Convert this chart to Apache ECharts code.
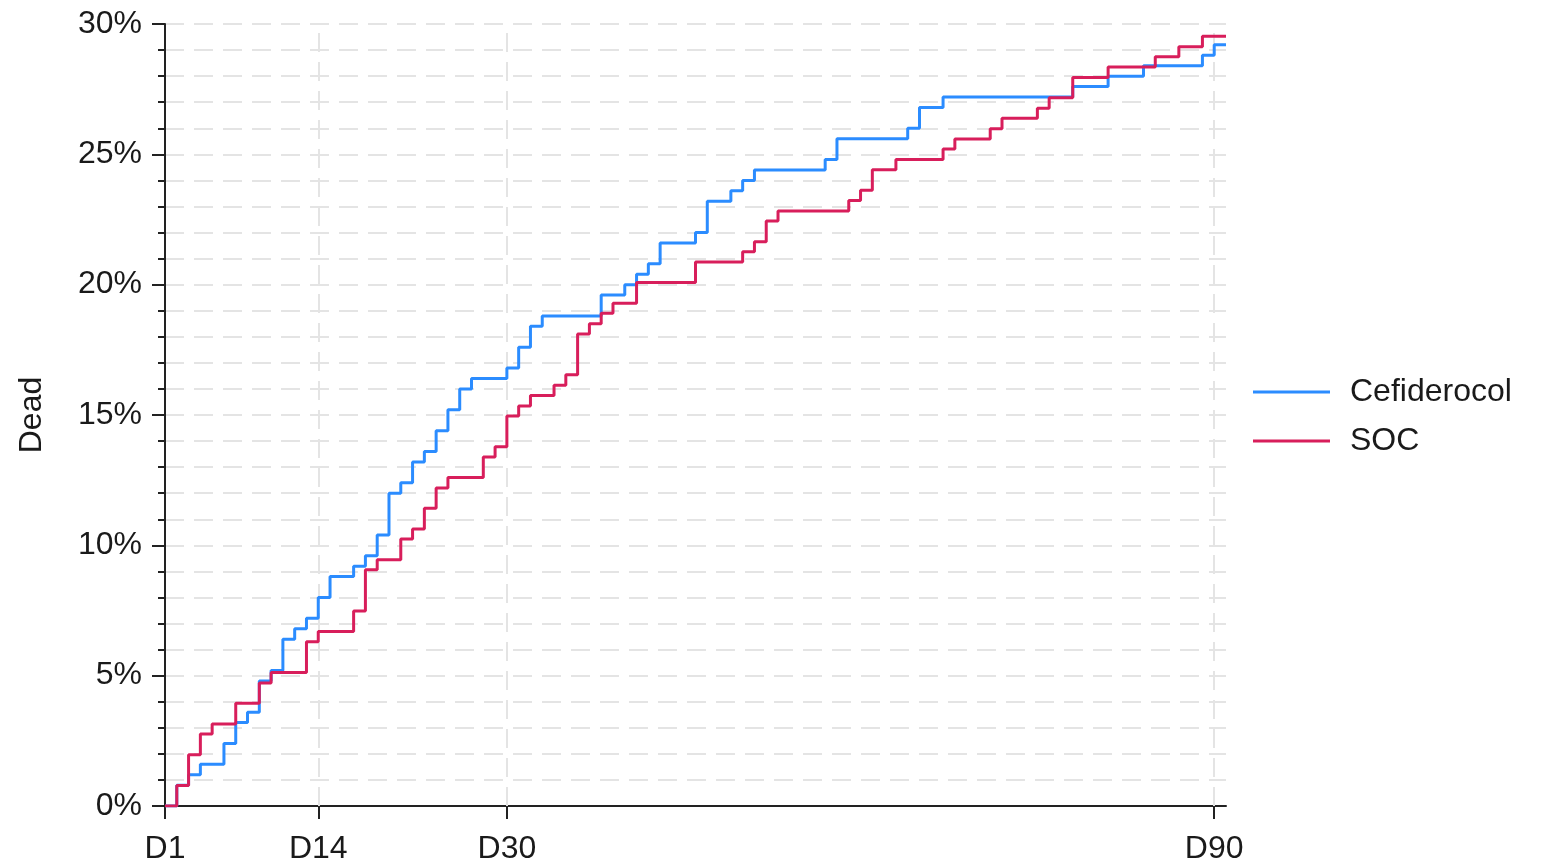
<!DOCTYPE html>
<html>
<head>
<meta charset="utf-8">
<script src="https://cdn.jsdelivr.net/npm/echarts@6/dist/echarts.min.js"></script>
<style>
  html, body { margin: 0; padding: 0; background: #fff; }
  #chart { width: 1547px; height: 868px; }
</style>
</head>
<body>
<div id="chart"></div>
<script>
// x ticks (days) shown as D1, D14, D30, D90
var xTicks = [1, 14, 30, 90];
var gridDays = [14, 30, 90];

// Cefiderocol: day the step starts, % dead from that day on
var cefDays = [1, 2, 3, 4, 6, 7, 8, 9, 10, 11, 12, 13, 14, 15, 17, 18, 19, 20, 21, 22, 23, 24, 25, 26, 27, 30,
  31, 32, 33, 38, 40, 41, 42, 43, 46, 47, 49, 50, 51, 57, 58, 64, 65, 67, 78, 81, 84, 89, 90, 91];
var cefDead = [0, 0.8, 1.2, 1.6, 2.4, 3.2, 3.6, 4.8, 5.2, 6.4, 6.8, 7.2, 8.0, 8.8, 9.2, 9.6, 10.4, 12.0, 12.4, 13.2, 13.6, 14.4, 15.2, 16.0, 16.4, 16.8,
  17.6, 18.4, 18.8, 19.6, 20.0, 20.4, 20.8, 21.6, 22.0, 23.2, 23.6, 24.0, 24.4, 24.8, 25.6, 26.0, 26.8, 27.2, 27.6, 28.0, 28.4, 28.8, 29.2, 29.2];

// SOC
var socDays = [1, 2, 3, 4, 5, 7, 9, 10, 13, 14, 17, 18, 19, 21, 22, 23, 24, 25, 28, 29, 30, 31, 32, 34, 35, 36, 37, 38, 39,
  41, 46, 50, 51, 52, 53, 59, 60, 61, 63, 67, 68, 71, 72, 75, 76, 78, 81, 85, 87, 89, 91];
var socDead = [0, 0.79, 1.97, 2.76, 3.15, 3.94, 4.72, 5.12, 6.30, 6.69, 7.48, 9.06, 9.45, 10.24, 10.63, 11.42, 12.20, 12.60, 13.39, 13.78, 14.96, 15.35, 15.75, 16.14, 16.54, 18.11, 18.50, 18.90, 19.29,
  20.08, 20.87, 21.26, 21.65, 22.44, 22.83, 23.23, 23.62, 24.41, 24.80, 25.20, 25.59, 25.98, 26.38, 26.77, 27.17, 27.95, 28.35, 28.74, 29.13, 29.53, 29.53];

function pairs(xs, ys) {
  return xs.map(function (x, i) { return [x, ys[i]]; });
}

var font = '"Liberation Sans", Arial, sans-serif';
var gridColor = '#e4e4e4';
var myChart = echarts.init(document.getElementById('chart'));

myChart.setOption({
  animation: false,
  textStyle: { fontFamily: font },
  grid: { left: 165, right: 321, top: 24, bottom: 62 },
  legend: {
    orient: 'vertical',
    left: 1248,
    top: 371,
    icon: 'rect',
    itemWidth: 77,
    itemHeight: 3,
    itemGap: 17,
    data: ['Cefiderocol', 'SOC'],
    textStyle: { fontSize: 32, color: '#1a1a1a', fontFamily: font, padding: [0, 0, 0, 15] }
  },
  xAxis: {
    type: 'value',
    min: 1,
    max: 91,
    axisLine: { lineStyle: { color: '#222', width: 2 } },
    axisTick: { show: true, length: 13, lineStyle: { color: '#222', width: 2 }, customValues: xTicks },
    axisLabel: {
      customValues: xTicks,
      fontSize: 32, color: '#1a1a1a', margin: 27,
      formatter: function (v) { return 'D' + v; }
    },
    splitLine: { show: false }
  },
  yAxis: {
    type: 'value',
    min: 0,
    max: 30,
    interval: 5,
    name: 'Dead',
    nameLocation: 'middle',
    nameGap: 117,
    nameTextStyle: { fontSize: 32, color: '#1a1a1a' },
    axisLine: { show: true, lineStyle: { color: '#222', width: 2 } },
    axisTick: { show: true, length: 13, lineStyle: { color: '#222', width: 2 } },
    minorTick: { show: true, splitNumber: 5, length: 7, lineStyle: { color: '#222', width: 2 } },
    axisLabel: { fontSize: 32, color: '#1a1a1a', margin: 23, formatter: '{value}%' },
    splitLine: { show: true, lineStyle: { color: gridColor, width: 2, type: [19, 10] } },
    minorSplitLine: { show: true, lineStyle: { color: gridColor, width: 2, type: [19, 10] } }
  },
  series: [
    {
      name: 'gridlines',
      type: 'line',
      data: [],
      silent: true,
      z: 1,
      markLine: {
        z: 1,
        silent: true,
        symbol: 'none',
        label: { show: false },
        lineStyle: { color: gridColor, width: 2, type: [19, 10] },
        data: gridDays.map(function (d) { return { xAxis: d }; })
      }
    },
    {
      name: 'Cefiderocol',
      type: 'line',
      step: 'end',
      symbol: 'none',
      z: 3,
      data: pairs(cefDays, cefDead),
      lineStyle: { color: '#2b8cff', width: 3 },
      itemStyle: { color: '#2b8cff' }
    },
    {
      name: 'SOC',
      type: 'line',
      step: 'end',
      symbol: 'none',
      z: 4,
      data: pairs(socDays, socDead),
      lineStyle: { color: '#d81e5b', width: 3 },
      itemStyle: { color: '#d81e5b' }
    }
  ]
});
</script>
</body>
</html>
